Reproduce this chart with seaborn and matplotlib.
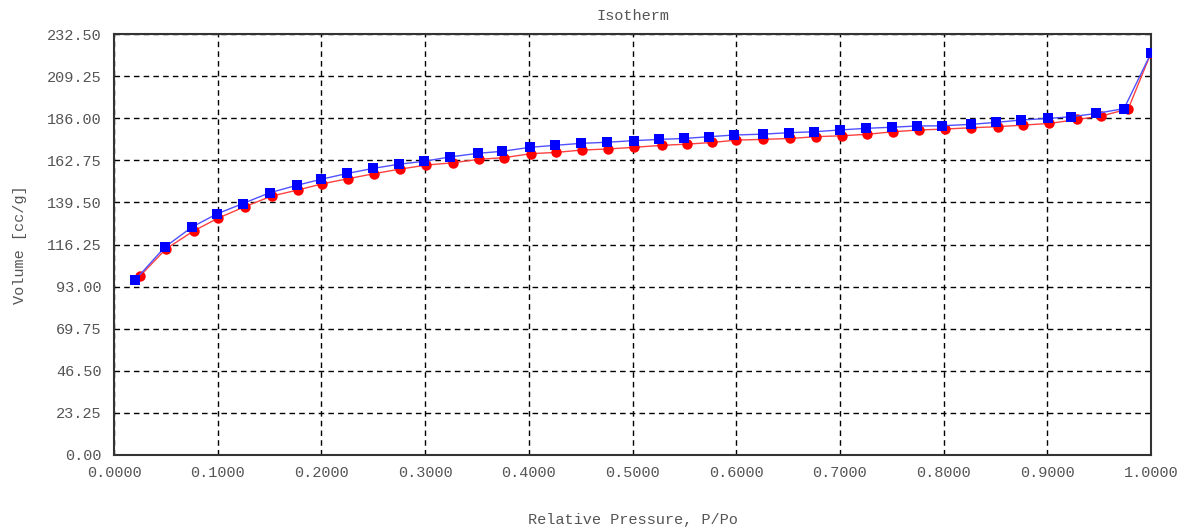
import matplotlib
matplotlib.use("Agg")
import matplotlib.pyplot as plt
import seaborn as sns
import pandas as pd

# Blue squares series
blue_p = [0.020, 0.049, 0.075, 0.099, 0.124, 0.150, 0.176, 0.200, 0.225, 0.250,
          0.275, 0.299, 0.324, 0.351, 0.374, 0.401, 0.425, 0.450, 0.475, 0.501,
          0.526, 0.550, 0.574, 0.598, 0.626, 0.651, 0.675, 0.700, 0.725, 0.750,
          0.774, 0.798, 0.826, 0.851, 0.875, 0.901, 0.923, 0.947, 0.974, 1.000]
blue_v = [96.4, 114.8, 125.8, 133.1, 138.8, 144.8, 148.9, 152.3, 155.5, 158.3,
          160.6, 162.2, 164.6, 166.6, 167.7, 169.9, 171.0, 172.1, 172.7, 173.6,
          174.3, 174.8, 175.8, 176.7, 177.2, 178.0, 178.5, 179.5, 180.4, 181.0,
          181.7, 181.8, 182.6, 183.7, 185.0, 185.9, 186.8, 188.6, 191.3, 221.9]

# Red circles series
red_p = [0.025, 0.050, 0.077, 0.100, 0.126, 0.152, 0.177, 0.201, 0.226, 0.251,
         0.276, 0.301, 0.327, 0.352, 0.376, 0.402, 0.426, 0.451, 0.476, 0.501,
         0.528, 0.553, 0.577, 0.600, 0.626, 0.652, 0.677, 0.702, 0.726, 0.751,
         0.776, 0.801, 0.826, 0.852, 0.877, 0.902, 0.929, 0.952, 0.978, 1.000]
red_v = [98.8, 113.8, 123.8, 130.7, 137.1, 143.0, 146.3, 149.8, 152.6, 155.4,
         157.9, 160.1, 161.4, 163.3, 164.2, 166.4, 167.1, 168.4, 169.0, 169.9,
         171.0, 171.7, 172.6, 173.9, 174.3, 174.8, 175.8, 176.3, 177.1, 178.5,
         179.5, 180.0, 180.7, 181.3, 182.2, 183.1, 185.3, 187.2, 191.1, 222.0]

x_ticks = [0.0, 0.1, 0.2, 0.3, 0.4, 0.5, 0.6, 0.7, 0.8, 0.9, 1.0]
y_ticks = [0.0, 23.25, 46.5, 69.75, 93.0, 116.25, 139.5, 162.75, 186.0, 209.25, 232.5]

sns.set_style("white")
plt.rcParams['font.family'] = ['Liberation Mono', 'DejaVu Sans Mono']

fig = plt.figure(figsize=(11.9, 5.31), dpi=100)
ax = fig.add_axes([114/1190, 1 - 455/531, (1151 - 114)/1190, (455 - 34)/531])

red_df = pd.DataFrame({"p": red_p, "v": red_v})
blue_df = pd.DataFrame({"p": blue_p, "v": blue_v})

sns.lineplot(data=red_df, x="p", y="v", ax=ax, sort=False, color="#ff4040",
             linewidth=1.0, marker="o", markersize=7.5, markeredgewidth=0,
             markerfacecolor="#ff0000", zorder=3)
sns.lineplot(data=blue_df, x="p", y="v", ax=ax, sort=False, color="#5050ff",
             linewidth=1.0, marker="s", markersize=7.5, markeredgewidth=0,
             markerfacecolor="#0000ff", zorder=4)

ax.set_xlim(0, 1.0)
ax.set_ylim(0, 232.5)
ax.set_xticks(x_ticks)
ax.set_yticks(y_ticks)
ax.set_xticklabels([f"{t:.4f}" for t in x_ticks])
ax.set_yticklabels([f"{t:.2f}" for t in y_ticks])

ax.grid(True, color="black", linestyle=(0, (4, 3)), linewidth=1.0, zorder=1)
ax.set_axisbelow(True)

tc = "#555555"
ax.tick_params(axis="both", direction="in", length=3, width=1, colors="#333333",
               labelcolor=tc, labelsize=11)
ax.tick_params(axis="x", pad=8)
ax.tick_params(axis="y", pad=9)

for s in ax.spines.values():
    s.set_color("#333333")
    s.set_linewidth(1.5)
    s.set_visible(True)

ax.set_title("Isotherm", fontsize=11, color=tc, pad=10)
ax.set_xlabel("Relative Pressure, P/Po", fontsize=11, color=tc, va="center")
ax.xaxis.set_label_coords(0.5, -(520 - 455) / 421)
ax.set_ylabel("Volume [cc/g]", fontsize=11, color=tc, labelpad=14)

fig.savefig("out.png", dpi=100)
